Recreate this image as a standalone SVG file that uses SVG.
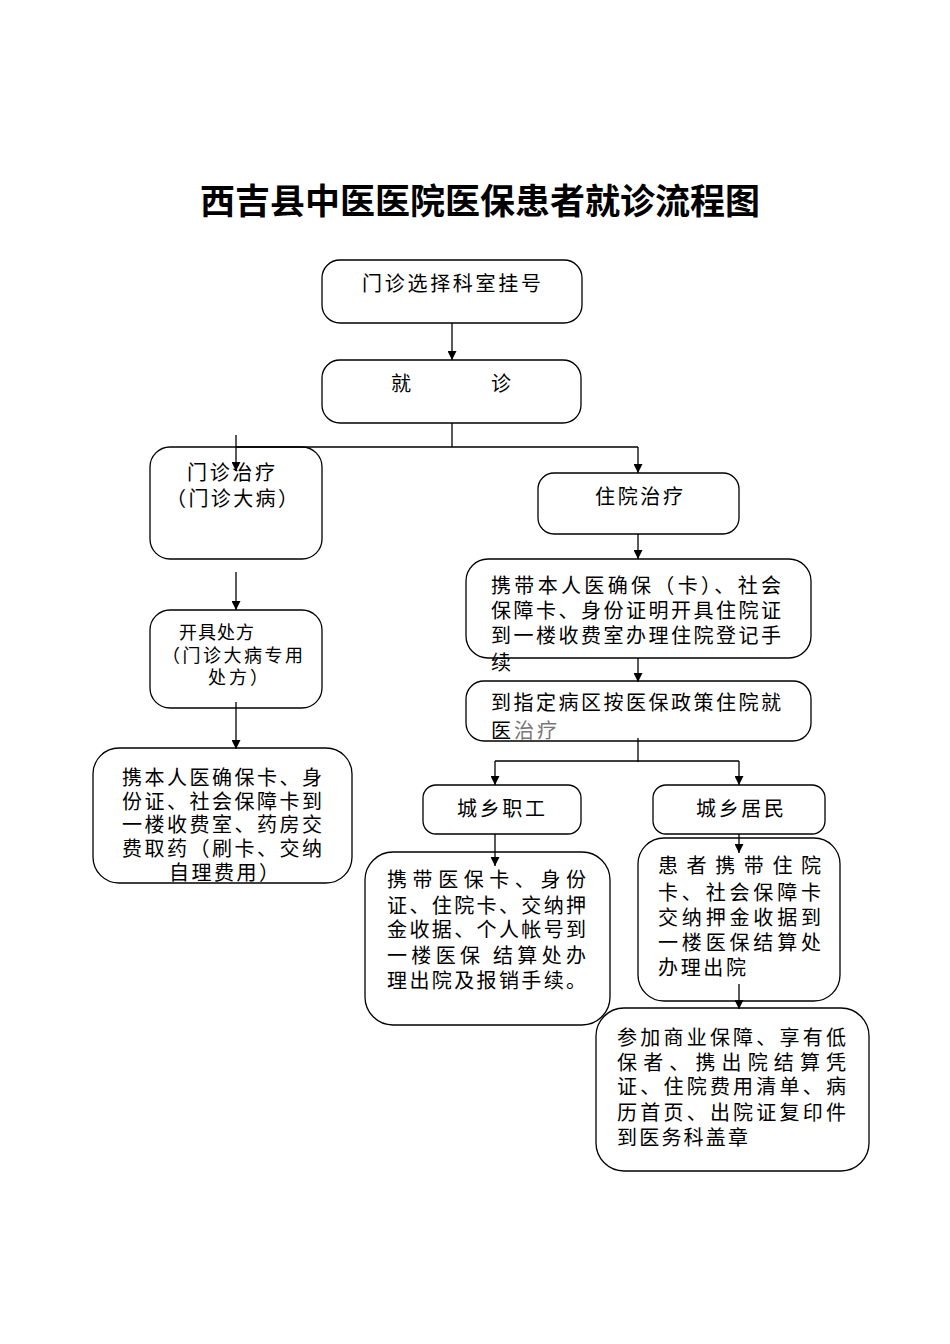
<svg xmlns="http://www.w3.org/2000/svg" width="950" height="1344" viewBox="0 0 950 1344">
<style>
.box{fill:none;stroke:#000;stroke-width:1.3}
.t{font-family:"Noto Sans CJK SC","Noto Sans",sans-serif;font-size:20px;fill:#000}
.s{font-size:18px}
.c{fill:none;stroke:#000;stroke-width:1.3}
.a{marker-end:url(#arr)}
</style>
<defs>
<marker id="arr" viewBox="0 0 10 10" refX="10" refY="5" markerWidth="9" markerHeight="9" markerUnits="userSpaceOnUse" orient="auto">
<path d="M0,0 L10,5 L0,10 z" fill="#000"/>
</marker>
</defs>
<rect width="950" height="1344" fill="#fff"/>
<text x="480" y="214" text-anchor="middle" font-family="'Noto Sans CJK SC',sans-serif" font-size="35" font-weight="bold" textLength="560" lengthAdjust="spacing">西吉县中医医院医保患者就诊流程图</text>

<g id="n1"><rect class="box" x="322" y="260" width="260" height="63" rx="18"/><text class="t" x="362" y="291" textLength="179" lengthAdjust="spacing">门诊选择科室挂号</text></g>
<g id="n2"><rect class="box" x="322" y="360" width="259" height="63" rx="18"/><text class="t" x="391" y="391">就</text><text class="t" x="491" y="391">诊</text></g>
<g id="n3"><rect class="box" x="150" y="447" width="172" height="112" rx="20"/><text class="t" x="187" y="480" textLength="88" lengthAdjust="spacing">门诊治疗</text><text class="t" x="166" y="506" textLength="132" lengthAdjust="spacing">（门诊大病）</text></g>
<g id="n4"><rect class="box" x="538" y="473" width="201" height="61" rx="16"/><text class="t" x="595" y="504" textLength="88" lengthAdjust="spacing">住院治疗</text></g>
<g id="n5"><rect class="box" x="466" y="559" width="345" height="99" rx="22"/>
<text class="t" x="491" y="593" textLength="290" lengthAdjust="spacing">携带本人医确保（卡）、社会</text>
<text class="t" x="491" y="618" textLength="290" lengthAdjust="spacing">保障卡、身份证明开具住院证</text>
<text class="t" x="491" y="643" textLength="290" lengthAdjust="spacing">到一楼收费室办理住院登记手</text>
<text class="t" x="491" y="670">续</text></g>
<g id="n6"><rect class="box" x="466" y="681" width="345" height="60" rx="18"/>
<text class="t" x="491" y="710" textLength="290" lengthAdjust="spacing">到指定病区按医保政策住院就</text>
<text class="t" x="491" y="738" textLength="66" lengthAdjust="spacing">医<tspan fill="#777">治疗</tspan></text></g>
<g id="n7"><rect class="box" x="423" y="785" width="158" height="49" rx="13"/><text class="t" x="457" y="816" textLength="88" lengthAdjust="spacing">城乡职工</text></g>
<g id="n8"><rect class="box" x="653" y="785" width="172" height="49" rx="13"/><text class="t" x="696" y="816" textLength="88" lengthAdjust="spacing">城乡居民</text></g>
<g id="n9"><rect class="box" x="365" y="852" width="245" height="173" rx="28"/>
<text class="t" x="387" y="887" textLength="199" lengthAdjust="spacing">携带医保卡、身份</text>
<text class="t" x="387" y="913" textLength="199" lengthAdjust="spacing">证、住院卡、交纳押</text>
<text class="t" x="387" y="937" textLength="199" lengthAdjust="spacing">金收据、个人帐号到</text>
<text class="t" x="387" y="963" textLength="199" lengthAdjust="spacing">一楼医保 结算处办</text>
<text class="t" x="387" y="988" textLength="199" lengthAdjust="spacing">理出院及报销手续。</text></g>
<g id="n10"><rect class="box" x="638" y="838" width="202" height="163" rx="26"/>
<text class="t" x="658" y="873" textLength="163" lengthAdjust="spacing">患者携带住院</text>
<text class="t" x="658" y="900" textLength="163" lengthAdjust="spacing">卡、社会保障卡</text>
<text class="t" x="658" y="925" textLength="163" lengthAdjust="spacing">交纳押金收据到</text>
<text class="t" x="658" y="950" textLength="163" lengthAdjust="spacing">一楼医保结算处</text>
<text class="t" x="658" y="975" textLength="88" lengthAdjust="spacing">办理出院</text></g>
<g id="n11"><rect class="box" x="596" y="1008" width="273" height="163" rx="28"/>
<text class="t" x="617" y="1045" textLength="229" lengthAdjust="spacing">参加商业保障、享有低</text>
<text class="t" x="617" y="1070" textLength="229" lengthAdjust="spacing">保者、携出院结算凭</text>
<text class="t" x="617" y="1094" textLength="229" lengthAdjust="spacing">证、住院费用清单、病</text>
<text class="t" x="617" y="1120" textLength="229" lengthAdjust="spacing">历首页、出院证复印件</text>
<text class="t" x="617" y="1145" textLength="131" lengthAdjust="spacing">到医务科盖章</text></g>
<g id="n12"><rect class="box" x="150" y="610" width="172" height="98" rx="20"/>
<text class="t s" x="179" y="639" textLength="75" lengthAdjust="spacing">开具处方</text>
<text class="t s" x="162" y="662" textLength="141" lengthAdjust="spacing">（门诊大病专用</text>
<text class="t s" x="208" y="684" textLength="60" lengthAdjust="spacing">处方）</text></g>
<g id="n13"><rect class="box" x="93" y="748" width="259" height="135" rx="26"/>
<text class="t" x="122" y="785" textLength="200" lengthAdjust="spacing">携本人医确保卡、身</text>
<text class="t" x="122" y="809" textLength="200" lengthAdjust="spacing">份证、社会保障卡到</text>
<text class="t" x="122" y="832" textLength="200" lengthAdjust="spacing">一楼收费室、药房交</text>
<text class="t" x="122" y="856" textLength="200" lengthAdjust="spacing">费取药（刷卡、交纳</text>
<text class="t" x="169" y="880" textLength="110" lengthAdjust="spacing">自理费用）</text></g>

<g id="connectors">
<path class="c a" d="M452,323 V360"/>
<path class="c" d="M452,423 V447 M236,447 H638"/>
<path class="c a" d="M638,447 V473"/>
<path class="c a" d="M236,435 V471"/>
<path class="c a" d="M236,572 V610"/>
<path class="c a" d="M236,702 V749"/>
<path class="c a" d="M638,534 V559"/>
<path class="c a" d="M638,658 V682"/>
<path class="c" d="M638,738 V762 M495,761 H739"/>
<path class="c a" d="M495,761 V785"/>
<path class="c a" d="M739,761 V785"/>
<path class="c a" d="M495,834 V866"/>
<path class="c a" d="M739,834 V853"/>
<path class="c a" d="M739,984 V1009"/>
</g>
</svg>
